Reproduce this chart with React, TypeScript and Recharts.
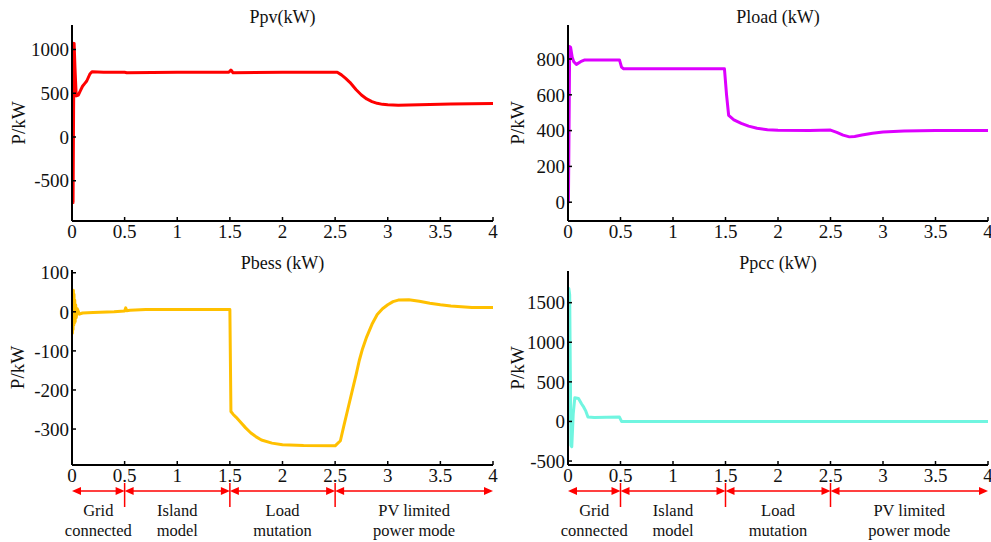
import React from 'react';
import { LineChart, Line, XAxis, YAxis, ReferenceLine } from 'recharts';

const timeTicks = [0, 0.5, 1, 1.5, 2, 2.5, 3, 3.5, 4];

// Ppv (kW)
const pvTime = [0, 0.01, 0.015, 0.02, 0.028, 0.04, 0.06, 0.08, 0.1, 0.12, 0.14, 0.17, 0.19, 0.3, 0.5, 0.52, 1.0, 1.49, 1.51, 1.53, 2.0, 2.52, 2.56, 2.6, 2.64, 2.7, 2.75, 2.8, 2.85, 2.9, 2.95, 3.0, 3.1, 3.3, 3.6, 4.0];
const pvValue = [0, -750, 300, 1070, 800, 470, 480, 530, 580, 610, 640, 720, 745, 740, 740, 735, 740, 740, 765, 735, 740, 740, 710, 670, 625, 540, 480, 435, 405, 385, 373, 368, 364, 368, 378, 382];

// Pload (kW)
const loadTime = [0, 0.004, 0.016, 0.025, 0.04, 0.055, 0.08, 0.12, 0.16, 0.3, 0.49, 0.51, 0.53, 1.0, 1.49, 1.51, 1.53, 1.58, 1.65, 1.72, 1.8, 1.9, 2.0, 2.3, 2.5, 2.56, 2.62, 2.68, 2.73, 2.8, 2.9, 3.0, 3.2, 3.5, 4.0];
const loadValue = [0, 0, 870, 865, 810, 785, 770, 785, 795, 795, 795, 755, 745, 745, 745, 600, 485, 460, 440, 425, 413, 405, 402, 400, 403, 390, 375, 365, 367, 375, 385, 392, 398, 400, 400];

// Pbess (kW)
const bessTime = [0, 0.004, 0.007, 0.01, 0.013, 0.016, 0.019, 0.022, 0.026, 0.03, 0.035, 0.04, 0.05, 0.07, 0.1, 0.2, 0.4, 0.5, 0.51, 0.52, 0.55, 0.7, 1.0, 1.5, 1.51, 1.53, 1.56, 1.6, 1.65, 1.7, 1.75, 1.8, 1.9, 2.0, 2.2, 2.5, 2.55, 2.58, 2.62, 2.66, 2.7, 2.73, 2.76, 2.8, 2.85, 2.9, 2.95, 3.0, 3.05, 3.1, 3.2, 3.3, 3.4, 3.5, 3.6, 3.8, 4.0];
const bessValue = [0, -55, 30, -45, 55, -35, 45, -30, 30, -25, 18, -15, 8, -6, -3, -2, 0, 2, 10, 3, 4, 6, 6, 6, -255, -262, -270, -282, -297, -310, -320, -328, -336, -340, -342, -343, -330, -295, -250, -205, -160, -124, -95, -64, -32, -7, 8, 18, 26, 30, 31, 27, 22, 18, 15, 11, 11];

// Ppcc (kW)
const pccTime = [0, 0.008, 0.016, 0.028, 0.036, 0.05, 0.065, 0.1, 0.13, 0.15, 0.17, 0.19, 0.25, 0.49, 0.51, 0.6, 1.0, 2.0, 3.0, 4.0];
const pccValue = [0, 1680, 1600, -300, -320, 100, 300, 290, 220, 180, 130, 55, 50, 55, 0, 0, 0, 0, 0, 0];

const phaseBounds = [0, 0.5, 1.5, 2.5, 4];
const phaseLabels = [['Grid', 'connected'], ['Island', 'model'], ['Load', 'mutation'], ['PV limited', 'power mode']];

const FONT = 'Liberation Serif, DejaVu Serif, serif';
const RED = '#ff0000';

const toRows = (t: number[], v: number[]) => t.map((x, i) => ({ t: x, p: v[i] }));

function PhaseMark(props: any) {
  const { x1, x2, y1, index, lines } = props;
  const y = y1 + 26;
  const cx = (x1 + x2) / 2;
  return (
    <g>
      <line x1={x1 + 4} y1={y} x2={x2 - 4} y2={y} stroke={RED} strokeWidth={1.5} />
      <polygon points={`${x1},${y} ${x1 + 9},${y - 4} ${x1 + 9},${y + 4}`} fill={RED} />
      <polygon points={`${x2},${y} ${x2 - 9},${y - 4} ${x2 - 9},${y + 4}`} fill={RED} />
      {index > 0 && <line x1={x1} y1={y - 8} x2={x1} y2={y + 16} stroke={RED} strokeWidth={1.5} />}
      <text x={cx} y={y + 25} textAnchor="middle" fontFamily={FONT} fontSize={16.5} fill="#111">{lines[0]}</text>
      <text x={cx} y={y + 45} textAnchor="middle" fontFamily={FONT} fontSize={16.5} fill="#111">{lines[1]}</text>
    </g>
  );
}

type PanelProps = {
  title: string;
  rows: { t: number; p: number }[];
  color: string;
  domain: [number, number];
  yTicks: number[];
  left: number;
  top: number;
  width: number;
  height: number;
  margin: { top: number; right: number; bottom: number; left: number };
  yWidth: number;
  titleTop: number;
  labelX: number;
  phases?: boolean;
};

function Panel({ title, rows, color, domain, yTicks, left, top, width, height, margin, yWidth, titleTop, labelX, phases }: PanelProps) {
  const plotLeft = margin.left + yWidth;
  const plotWidth = width - plotLeft - margin.right;
  return (
    <div style={{ position: 'absolute', left, top, width, height }}>
      <LineChart width={width} height={height} data={rows} margin={margin}>
        <XAxis
          dataKey="t"
          type="number"
          domain={[0, 4]}
          ticks={timeTicks}
          interval={0}
          height={29}
          tickSize={-4}
          tickMargin={8}
          allowDataOverflow
          axisLine={{ stroke: '#000', strokeWidth: 2 }}
          tickLine={{ stroke: '#000', strokeWidth: 1.5 }}
          tick={{ fill: '#111', fontSize: 19, fontFamily: FONT }}
        />
        <YAxis
          type="number"
          domain={domain}
          ticks={yTicks}
          interval={0}
          width={yWidth}
          tickSize={-4}
          tickMargin={7}
          allowDataOverflow
          axisLine={{ stroke: '#000', strokeWidth: 2 }}
          tickLine={{ stroke: '#000', strokeWidth: 1.5 }}
          tick={{ fill: '#111', fontSize: 19, fontFamily: FONT }}
          label={{
            content: (p: any) => {
              const vb = p.viewBox || { x: 0, y: 0, width: 0, height: 0 };
              const x = vb.x + labelX;
              const y = vb.y + vb.height / 2;
              return (
                <text x={x} y={y} transform={`rotate(-90 ${x} ${y})`} textAnchor="middle" dominantBaseline="central" fontFamily={FONT} fontSize={19} fill="#111">
                  P/kW
                </text>
              );
            },
          }}
        />
        <Line dataKey="p" type="linear" stroke={color} strokeWidth={3} strokeLinejoin="round" dot={false} activeDot={false} isAnimationActive={false} />
        {phases &&
          phaseLabels.map((lab, i) => (
            <ReferenceLine
              key={i}
              segment={[
                { x: phaseBounds[i], y: domain[0] },
                { x: phaseBounds[i + 1], y: domain[0] },
              ]}
              ifOverflow="visible"
              shape={(p: any) => <PhaseMark {...p} index={i} lines={lab} />}
            />
          ))}
      </LineChart>
      <div
        style={{
          position: 'absolute',
          left: plotLeft,
          width: plotWidth,
          top: titleTop,
          textAlign: 'center',
          fontFamily: FONT,
          fontSize: 18,
          lineHeight: '18px',
          color: '#111',
        }}
      >
        {title}
      </div>
    </div>
  );
}

export default function App() {
  return (
    <div style={{ position: 'absolute', left: 0, top: 0, width: 991, height: 542, background: '#fff' }}>
      <style>{'.recharts-surface{overflow:visible}'}</style>
      <Panel
        title="Ppv(kW)"
        rows={toRows(pvTime, pvValue)}
        color="#ff0000"
        domain={[-960, 1280]}
        yTicks={[-500, 0, 500, 1000]}
        left={0}
        top={0}
        width={495}
        height={250}
        margin={{ top: 25, right: 2, bottom: 0, left: 0 }}
        yWidth={72}
        titleTop={8}
        labelX={18}
      />
      <Panel
        title="Pload (kW)"
        rows={toRows(loadTime, loadValue)}
        color="#dd00ff"
        domain={[-105, 990]}
        yTicks={[0, 200, 400, 600, 800]}
        left={495}
        top={0}
        width={496}
        height={250}
        margin={{ top: 25, right: 3, bottom: 0, left: 0 }}
        yWidth={73}
        titleTop={8}
        labelX={22}
      />
      <Panel
        title="Pbess (kW)"
        rows={toRows(bessTime, bessValue)}
        color="#ffc000"
        domain={[-392, 107]}
        yTicks={[-300, -200, -100, 0, 100]}
        left={0}
        top={250}
        width={495}
        height={292}
        margin={{ top: 20, right: 2, bottom: 48, left: 0 }}
        yWidth={72}
        titleTop={4}
        labelX={17}
        phases
      />
      <Panel
        title="Ppcc (kW)"
        rows={toRows(pccTime, pccValue)}
        color="#70f5e0"
        domain={[-550, 1900]}
        yTicks={[-500, 0, 500, 1000, 1500]}
        left={495}
        top={250}
        width={496}
        height={292}
        margin={{ top: 21, right: 3, bottom: 48, left: 0 }}
        yWidth={73}
        titleTop={4}
        labelX={22}
        phases
      />
    </div>
  );
}
